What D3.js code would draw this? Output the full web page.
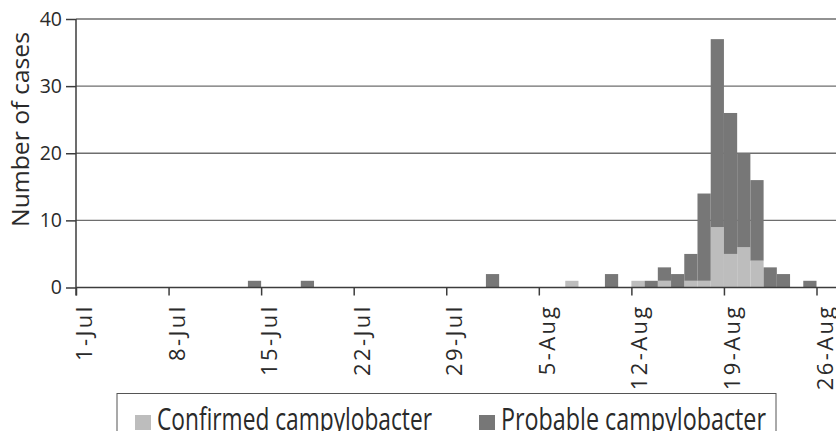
<!DOCTYPE html>
<html>
<head>
<meta charset="utf-8">
<script src="https://cdn.jsdelivr.net/npm/d3@7"></script>
<style>
  body { margin: 0; background: #fff; }
  svg { display: block; font-family: "Open Sans", sans-serif; }
</style>
</head>
<body>
<svg id="chart" width="836" height="431"></svg>
<script>
// onset dates with at least one case
var caseDates = ["14-Jul", "18-Jul", "1-Aug", "7-Aug", "10-Aug", "12-Aug", "13-Aug", "14-Aug", "15-Aug",
                 "16-Aug", "17-Aug", "18-Aug", "19-Aug", "20-Aug", "21-Aug", "22-Aug", "23-Aug", "25-Aug"];
var confirmed = [0, 0, 0, 1, 0, 1, 0, 1, 0, 1, 1, 9, 5, 6, 4, 0, 0, 0];
var probable  = [1, 1, 2, 0, 2, 0, 1, 2, 2, 4, 13, 28, 21, 14, 12, 3, 2, 1];
var tickLabels = ["1-Jul", "8-Jul", "15-Jul", "22-Jul", "29-Jul", "5-Aug", "12-Aug", "19-Aug", "26-Aug"];
var yTicks = [0, 10, 20, 30, 40];
var seriesNames = ["Confirmed campylobacter", "Probable campylobacter"];

var parseDay = d3.timeParse("%d-%b");
var formatDay = d3.timeFormat("%-d-%b");

var width = 836, height = 431;
var svg = d3.select("#chart");

var x = d3.scaleTime()
    .domain([parseDay(tickLabels[0]), parseDay(tickLabels[tickLabels.length - 1])])
    .range([76, 816.5]);
var y = d3.scaleLinear().domain([0, 40]).range([287.5, 19]);

var colors = d3.scaleOrdinal().domain(["confirmed", "probable"]).range(["#bdbdbd", "#777777"]);

var rows = caseDates.map(function(d, i) {
    return { date: parseDay(d), confirmed: confirmed[i], probable: probable[i] };
});
var stacked = d3.stack().keys(["confirmed", "probable"])(rows);

// gridlines
svg.append("g")
    .selectAll("line")
    .data(yTicks.slice(1))
    .enter().append("line")
    .attr("x1", x.range()[0]).attr("x2", width)
    .attr("y1", function(d) { return y(d); })
    .attr("y2", function(d) { return y(d); })
    .attr("stroke", "#6e6e6e")
    .attr("stroke-width", 1.3);

// bars
svg.append("g")
    .selectAll("g")
    .data(stacked)
    .enter().append("g")
    .attr("fill", function(d) { return colors(d.key); })
    .selectAll("rect")
    .data(function(d) { return d; })
    .enter().append("rect")
    .attr("x", function(d) { return x(d.data.date); })
    .attr("width", function(d) { return x(d3.timeDay.offset(d.data.date, 1)) - x(d.data.date); })
    .attr("y", function(d) { return y(d[1]); })
    .attr("height", function(d) { return y(d[0]) - y(d[1]); });

// x axis
var xAxis = d3.axisBottom(x)
    .tickValues(tickLabels.map(parseDay))
    .tickFormat(formatDay)
    .tickSize(8)
    .tickSizeOuter(0);

var gx = svg.append("g")
    .attr("transform", "translate(0," + y(0) + ")")
    .call(xAxis);
gx.select(".domain").remove();
gx.append("line")
    .attr("x1", x.range()[0]).attr("x2", width)
    .attr("stroke", "#3c3c3c").attr("stroke-width", 1.5);
gx.selectAll(".tick line").attr("stroke", "#3c3c3c").attr("stroke-width", 1.5);
gx.selectAll(".tick text")
    .attr("transform", "rotate(-90)")
    .attr("text-anchor", "end")
    .attr("x", -16.8)
    .attr("y", 15.5)
    .attr("dy", 0)
    .attr("font-size", 22)
    .attr("letter-spacing", 2.4)
    .attr("font-family", "Open Sans, sans-serif")
    .attr("fill", "#2a2a2a");

// y axis
var yAxis = d3.axisLeft(y)
    .tickValues(yTicks)
    .tickSize(10)
    .tickSizeOuter(0)
    .tickPadding(4);

var gy = svg.append("g")
    .attr("transform", "translate(" + x.range()[0] + ",0)")
    .call(yAxis);
gy.select(".domain").remove();
gy.append("line")
    .attr("y1", y(40)).attr("y2", y(0) + 8)
    .attr("stroke", "#3c3c3c").attr("stroke-width", 1.5);
gy.selectAll(".tick line").attr("stroke", "#3c3c3c").attr("stroke-width", 1.5);
gy.selectAll(".tick text")
    .attr("font-size", 19.5)
    .attr("font-family", "Open Sans, sans-serif")
    .attr("fill", "#2a2a2a");

svg.append("text")
    .attr("transform", "translate(28.5," + 129.5 + ") rotate(-90)")
    .attr("text-anchor", "middle")
    .attr("font-size", 23)
    .attr("textLength", 195)
    .attr("lengthAdjust", "spacingAndGlyphs")
    .attr("fill", "#2a2a2a")
    .text("Number of cases");

// legend
var legend = svg.append("g");
legend.append("rect")
    .attr("x", 117).attr("y", 393.5)
    .attr("width", 659).attr("height", 60)
    .attr("fill", "none")
    .attr("stroke", "#555")
    .attr("stroke-width", 1);

var legendX = [135, 479];
var legendLen = [275, 265];
var items = legend.selectAll("g.item")
    .data(seriesNames)
    .enter().append("g")
    .attr("class", "item")
    .attr("transform", function(d, i) { return "translate(" + legendX[i] + ",0)"; });
items.append("rect")
    .attr("x", 0).attr("y", 415)
    .attr("width", 16).attr("height", 15)
    .attr("fill", function(d, i) { return colors.range()[i]; });
items.append("text")
    .attr("x", 22).attr("y", 429.5)
    .attr("font-size", 31)
    .attr("textLength", function(d, i) { return legendLen[i]; })
    .attr("lengthAdjust", "spacingAndGlyphs")
    .attr("fill", "#2a2a2a")
    .text(function(d) { return d; });
</script>
</body>
</html>
